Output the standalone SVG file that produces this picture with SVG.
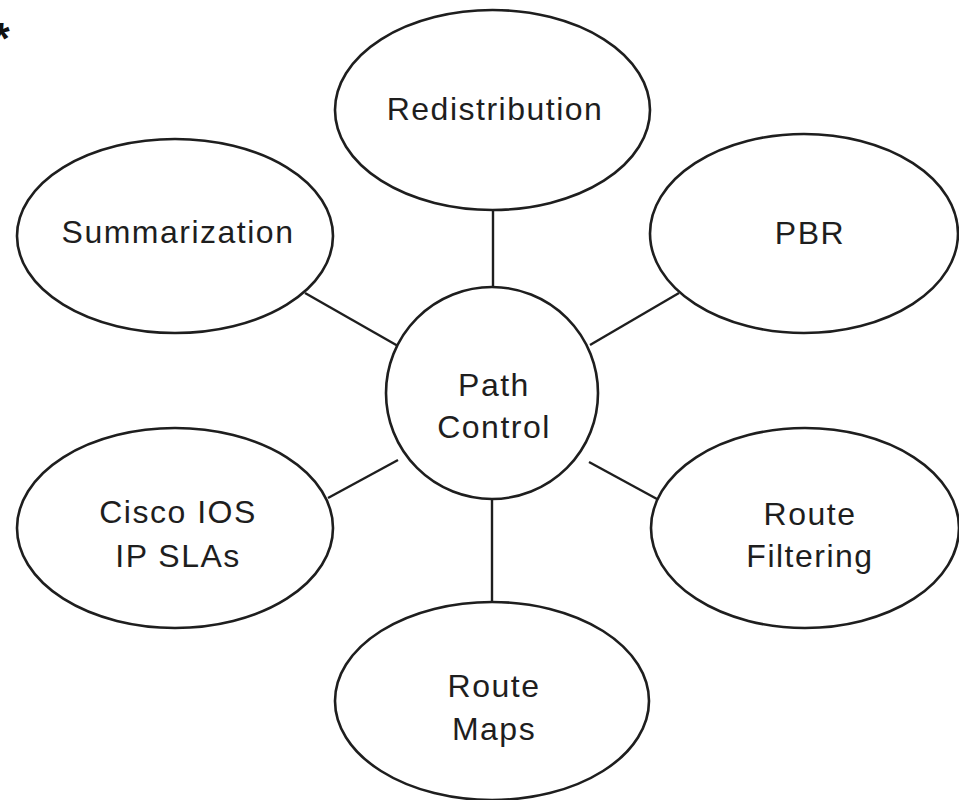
<svg xmlns="http://www.w3.org/2000/svg" width="959" height="800" viewBox="0 0 959 800">
  <style>
    .node { fill: #fff; stroke: #1e1e1e; stroke-width: 2.6; }
    .edge { stroke: #1e1e1e; stroke-width: 2.4; fill: none; }
    .label { font-family: "Liberation Sans", Arial, Helvetica, sans-serif; font-size: 32px; fill: #1e1e1e; text-anchor: middle; letter-spacing: 1.5px; }
    .mark { font-family: "Liberation Mono", "DejaVu Sans Mono", monospace; font-size: 44px; font-weight: bold; fill: #111; }
  </style>
  <rect width="959" height="800" fill="#fff"/>

  <text class="mark" x="-12" y="55">*</text>

  <!-- spokes from the hub to each topic -->
  <g id="connectors">
    <line class="edge" x1="493" y1="210" x2="493" y2="289"/>
    <line class="edge" x1="305" y1="293" x2="398" y2="346"/>
    <line class="edge" x1="679" y1="293" x2="590" y2="345"/>
    <line class="edge" x1="328" y1="498" x2="398" y2="460"/>
    <line class="edge" x1="657" y1="499" x2="589" y2="462"/>
    <line class="edge" x1="492" y1="497" x2="492" y2="602"/>
  </g>

  <g id="path-control">
    <circle class="node" cx="492" cy="393" r="106"/>
    <text class="label" x="494" y="396">Path</text>
    <text class="label" x="494" y="438">Control</text>
  </g>

  <g id="redistribution">
    <ellipse class="node" cx="492.5" cy="110" rx="157.5" ry="100"/>
    <text class="label" x="495" y="120">Redistribution</text>
  </g>

  <g id="summarization">
    <ellipse class="node" cx="175" cy="236" rx="158" ry="97"/>
    <text class="label" x="178" y="243">Summarization</text>
  </g>

  <g id="pbr">
    <ellipse class="node" cx="804" cy="233.5" rx="154" ry="99.5"/>
    <text class="label" x="810" y="244">PBR</text>
  </g>

  <g id="ip-slas">
    <ellipse class="node" cx="175" cy="528" rx="158" ry="100"/>
    <text class="label" x="178" y="523">Cisco IOS</text>
    <text class="label" x="178" y="567">IP SLAs</text>
  </g>

  <g id="route-filtering">
    <ellipse class="node" cx="805" cy="528" rx="154" ry="100"/>
    <text class="label" x="810" y="525">Route</text>
    <text class="label" x="810" y="567">Filtering</text>
  </g>

  <g id="route-maps">
    <ellipse class="node" cx="492" cy="701" rx="157" ry="99"/>
    <text class="label" x="494" y="697">Route</text>
    <text class="label" x="494" y="740">Maps</text>
  </g>
</svg>
